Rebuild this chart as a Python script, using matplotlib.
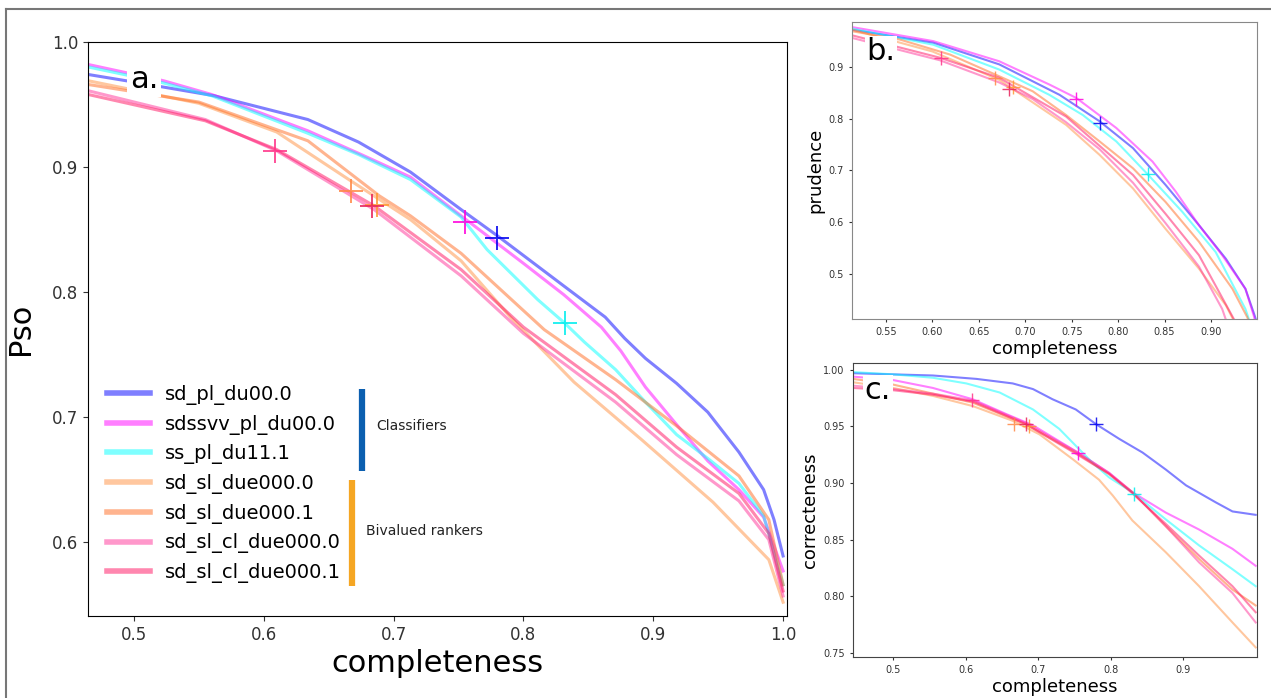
import matplotlib
matplotlib.use("Agg")
import matplotlib.pyplot as plt
from matplotlib.lines import Line2D
import numpy as np

# series names
names = ["sd_pl_du00.0", "sdssvv_pl_du00.0", "ss_pl_du11.1", "sd_sl_due000.0",
         "sd_sl_due000.1", "sd_sl_cl_due000.0", "sd_sl_cl_due000.1"]

# panel a: Pso vs completeness
pso_sd_pl = [(0.465, 0.974), (0.50, 0.968), (0.562, 0.957), (0.634, 0.938), (0.673, 0.920), (0.713, 0.896),
             (0.752, 0.866), (0.780, 0.845), (0.831, 0.805), (0.863, 0.780), (0.878, 0.763), (0.894, 0.747),
             (0.918, 0.727), (0.942, 0.704), (0.966, 0.672), (0.985, 0.642), (0.993, 0.618), (1.0, 0.589)]
pso_sdssvv = [(0.465, 0.982), (0.523, 0.969), (0.56, 0.958), (0.634, 0.929), (0.673, 0.911), (0.713, 0.892),
              (0.752, 0.861), (0.80, 0.823), (0.831, 0.798), (0.86, 0.772), (0.875, 0.753), (0.894, 0.724),
              (0.918, 0.694), (0.942, 0.665), (0.966, 0.642), (0.985, 0.620), (1.0, 0.577)]
pso_ss = [(0.465, 0.980), (0.52, 0.968), (0.56, 0.957), (0.634, 0.927), (0.673, 0.910), (0.713, 0.890),
          (0.752, 0.860), (0.772, 0.834), (0.811, 0.794), (0.832, 0.775), (0.847, 0.760), (0.871, 0.738),
          (0.894, 0.712), (0.918, 0.686), (0.942, 0.667), (0.966, 0.647), (0.985, 0.621), (1.0, 0.566)]
pso_due0 = [(0.465, 0.969), (0.55, 0.951), (0.61, 0.928), (0.667, 0.889), (0.713, 0.858), (0.752, 0.825),
            (0.79, 0.780), (0.839, 0.728), (0.891, 0.682), (0.946, 0.632), (0.989, 0.586), (1.0, 0.552)]
pso_due1 = [(0.465, 0.966), (0.55, 0.952), (0.634, 0.921), (0.689, 0.877), (0.713, 0.861), (0.752, 0.831),
            (0.816, 0.770), (0.871, 0.730), (0.918, 0.693), (0.966, 0.653), (0.989, 0.618), (1.0, 0.566)]
pso_cl0 = [(0.465, 0.961), (0.555, 0.938), (0.61, 0.913), (0.685, 0.866), (0.752, 0.813), (0.80, 0.767),
           (0.871, 0.712), (0.918, 0.670), (0.966, 0.633), (0.989, 0.602), (1.0, 0.557)]
pso_cl1 = [(0.465, 0.958), (0.555, 0.937), (0.61, 0.914), (0.685, 0.869), (0.752, 0.818), (0.80, 0.772),
           (0.871, 0.718), (0.918, 0.676), (0.966, 0.639), (0.989, 0.607), (1.0, 0.561)]

# panel b: prudence vs completeness
pru_sd_pl = [(0.514, 0.972), (0.601, 0.947), (0.672, 0.905), (0.737, 0.846), (0.780, 0.795), (0.816, 0.743),
             (0.851, 0.672), (0.887, 0.594), (0.916, 0.529), (0.937, 0.471), (0.947, 0.419), (0.952, 0.39)]
pru_sdssvv = [(0.514, 0.977), (0.601, 0.950), (0.672, 0.911), (0.726, 0.866), (0.755, 0.840), (0.798, 0.782),
              (0.837, 0.717), (0.862, 0.659), (0.887, 0.594), (0.912, 0.536), (0.937, 0.471), (0.946, 0.419),
              (0.950, 0.39)]
pru_ss = [(0.514, 0.974), (0.601, 0.943), (0.672, 0.895), (0.726, 0.846), (0.762, 0.807), (0.798, 0.756),
          (0.832, 0.692), (0.869, 0.620), (0.905, 0.542), (0.937, 0.432), (0.945, 0.39)]
pru_due0 = [(0.514, 0.972), (0.60, 0.930), (0.672, 0.875), (0.744, 0.788), (0.780, 0.730), (0.816, 0.665),
            (0.851, 0.587), (0.887, 0.510), (0.916, 0.439), (0.930, 0.39)]
pru_due1 = [(0.514, 0.969), (0.565, 0.953), (0.619, 0.924), (0.672, 0.882), (0.708, 0.853), (0.744, 0.807),
            (0.780, 0.756), (0.816, 0.704), (0.851, 0.639), (0.887, 0.562), (0.923, 0.471), (0.939, 0.416),
            (0.945, 0.39)]
pru_cl0 = [(0.514, 0.956), (0.608, 0.913), (0.672, 0.870), (0.708, 0.838), (0.744, 0.793), (0.780, 0.741),
           (0.816, 0.676), (0.851, 0.598), (0.887, 0.514), (0.912, 0.432), (0.920, 0.39)]
pru_cl1 = [(0.514, 0.961), (0.608, 0.918), (0.672, 0.879), (0.744, 0.804), (0.816, 0.691), (0.851, 0.616),
           (0.887, 0.536), (0.925, 0.411), (0.930, 0.39)]

# panel c: correcteness vs completeness
cor_sd_pl = [(0.445, 0.997), (0.5, 0.996), (0.555, 0.995), (0.615, 0.992), (0.665, 0.988), (0.693, 0.983),
             (0.72, 0.974), (0.752, 0.965), (0.78, 0.952), (0.812, 0.939), (0.844, 0.927), (0.876, 0.912),
             (0.904, 0.898), (0.945, 0.883), (0.968, 0.875), (1.0, 0.872)]
cor_sdssvv = [(0.445, 0.994), (0.5, 0.991), (0.555, 0.984), (0.61, 0.974), (0.656, 0.961), (0.693, 0.951),
              (0.755, 0.927), (0.798, 0.909), (0.83, 0.892), (0.876, 0.874), (0.922, 0.859), (0.968, 0.842),
              (1.0, 0.827)]
cor_ss = [(0.445, 0.998), (0.5, 0.996), (0.555, 0.993), (0.601, 0.988), (0.647, 0.980), (0.693, 0.965),
          (0.729, 0.948), (0.752, 0.933), (0.775, 0.918), (0.798, 0.905), (0.83, 0.892), (0.876, 0.868),
          (0.922, 0.845), (0.968, 0.824), (1.0, 0.809)]
cor_due0 = [(0.445, 0.989), (0.5, 0.984), (0.555, 0.977), (0.61, 0.968), (0.665, 0.955), (0.702, 0.943),
            (0.748, 0.921), (0.784, 0.903), (0.803, 0.889), (0.83, 0.867), (0.876, 0.839), (0.922, 0.809),
            (0.968, 0.777), (1.0, 0.755)]
cor_due1 = [(0.445, 0.992), (0.5, 0.987), (0.61, 0.971), (0.683, 0.952), (0.752, 0.927), (0.798, 0.908),
            (0.83, 0.892), (0.876, 0.862), (0.922, 0.833), (0.968, 0.806), (1.0, 0.792)]
cor_cl0 = [(0.445, 0.986), (0.5, 0.983), (0.555, 0.979), (0.61, 0.973), (0.683, 0.953), (0.752, 0.928),
           (0.798, 0.909), (0.83, 0.892), (0.876, 0.862), (0.922, 0.830), (0.968, 0.803), (1.0, 0.777)]
cor_cl1 = [(0.445, 0.984), (0.5, 0.982), (0.555, 0.978), (0.61, 0.972), (0.683, 0.952), (0.752, 0.926),
           (0.798, 0.908), (0.83, 0.891), (0.876, 0.864), (0.922, 0.836), (0.968, 0.809), (1.0, 0.786)]

# operating points (+ markers), same order as names
mark_compl = [0.780, 0.755, 0.832, 0.667, 0.687, 0.609, 0.683]
mark_pso = [0.843, 0.856, 0.775, 0.881, 0.870, 0.913, 0.869]
mark_pru = [0.792, 0.838, 0.693, 0.879, 0.862, 0.917, 0.857]
mark_cor = [0.952, 0.927, 0.890, 0.952, 0.950, 0.973, 0.952]

line_colors = ["#0000ff", "#ff00ff", "#00ffff", "#ff9040", "#ff6a20", "#ff3399", "#ff1060"]
mark_colors = ["#0000ee", "#ff00dd", "#00eeee", "#ff8844", "#ff9933", "#ff3388", "#e8225a"]

fig = plt.figure(figsize=(12.71, 6.98), dpi=100)
ax_a = fig.add_axes([0.0692, 0.1175, 0.55, 0.8223])
ax_b = fig.add_axes([0.6703, 0.543, 0.3187, 0.4255])
ax_c = fig.add_axes([0.6711, 0.0587, 0.318, 0.4212])

panels = [
    (ax_a, [pso_sd_pl, pso_sdssvv, pso_ss, pso_due0, pso_due1, pso_cl0, pso_cl1], mark_pso, 2.2, 17),
    (ax_b, [pru_sd_pl, pru_sdssvv, pru_ss, pru_due0, pru_due1, pru_cl0, pru_cl1], mark_pru, 1.5, 10),
    (ax_c, [cor_sd_pl, cor_sdssvv, cor_ss, cor_due0, cor_due1, cor_cl0, cor_cl1], mark_cor, 1.5, 10),
]
for ax, curves, marks, lw, ms in panels:
    for i, pts in enumerate(curves):
        xy = np.array(pts)
        ax.plot(xy[:, 0], xy[:, 1], color=line_colors[i], alpha=0.5, lw=lw, label=names[i])
    for i in range(len(names)):
        ax.plot(mark_compl[i], marks[i], "+", color=mark_colors[i], ms=ms, mew=1.4 if ax is ax_a else 1.0,
                alpha=0.85)

# panel a
ax_a.set_xlim(0.4646, 1.003)
ax_a.set_ylim(0.541, 1.0)
ax_a.set_xticks([0.5, 0.6, 0.7, 0.8, 0.9, 1.0])
ax_a.set_xticklabels(["0.5", "0.6", "0.7", "0.8", "0.9", "1.0"])
ax_a.set_yticks([0.6, 0.7, 0.8, 0.9, 1.0])
ax_a.set_yticklabels(["0.6", "0.7", "0.8", "0.9", "1.0"])
ax_a.tick_params(labelsize=12, colors="#333333")
ax_a.set_xlabel("completeness", fontsize=22)
ax_a.set_ylabel("Pso", fontsize=22, labelpad=12)
ax_a.text(0.080, 0.934, "a.", transform=ax_a.transAxes, fontsize=22, ha="center", va="center",
          bbox=dict(facecolor="white", edgecolor="none", pad=2), zorder=5)
ax_a.legend(loc="center left", bbox_to_anchor=(0.016, 0.23), frameon=False, fontsize=14,
            handlelength=2.2, handletextpad=0.8, borderaxespad=0, labelspacing=0.5)
for l in ax_a.get_legend().get_lines():
    l.set_linewidth(4)

# group brackets
ax_a.plot([0.6757, 0.6757], [0.7224, 0.6568], color="#0b5fb0", lw=4.5, solid_capstyle="butt")
ax_a.plot([0.668, 0.668], [0.650, 0.5648], color="#f5a623", lw=4.5, solid_capstyle="butt")
ax_a.text(0.6864, 0.6928, "Classifiers", fontsize=10, va="center", color="#222222")
ax_a.text(0.6787, 0.6088, "Bivalued rankers", fontsize=10, va="center", color="#222222")

# panel b
ax_b.set_xlim(0.5134, 0.9495)
ax_b.set_ylim(0.4126, 0.987)
ax_b.set_xticks([0.55, 0.60, 0.65, 0.70, 0.75, 0.80, 0.85, 0.90])
ax_b.set_xticklabels(["0.55", "0.60", "0.65", "0.70", "0.75", "0.80", "0.85", "0.90"])
ax_b.set_yticks([0.5, 0.6, 0.7, 0.8, 0.9])
ax_b.set_yticklabels(["0.5", "0.6", "0.7", "0.8", "0.9"])
ax_b.tick_params(labelsize=7, length=2.5, colors="#333333")
ax_b.set_xlabel("completeness", fontsize=13, labelpad=2)
ax_b.set_ylabel("prudence", fontsize=13, labelpad=3)
for s in ax_b.spines.values():
    s.set_color("#888888")
ax_b.text(0.072, 0.899, "b.", transform=ax_b.transAxes, fontsize=22, ha="center", va="center",
          bbox=dict(facecolor="white", edgecolor="none", pad=1), zorder=5)

# panel c
ax_c.set_xlim(0.4448, 1.002)
ax_c.set_ylim(0.7465, 1.006)
ax_c.set_xticks([0.5, 0.6, 0.7, 0.8, 0.9])
ax_c.set_xticklabels(["0.5", "0.6", "0.7", "0.8", "0.9"])
ax_c.set_yticks([0.75, 0.80, 0.85, 0.90, 0.95, 1.00])
ax_c.set_yticklabels(["0.75", "0.80", "0.85", "0.90", "0.95", "1.00"])
ax_c.tick_params(labelsize=7, length=2.5, colors="#333333")
ax_c.set_xlabel("completeness", fontsize=13, labelpad=2)
ax_c.set_ylabel("correcteness", fontsize=13, labelpad=3)
for s in ax_c.spines.values():
    s.set_color("#444444")
ax_c.text(0.062, 0.905, "c.", transform=ax_c.transAxes, fontsize=22, ha="center", va="center",
          bbox=dict(facecolor="white", edgecolor="none", pad=1), zorder=5)

# outer frame (top and left edges)
fig.add_artist(Line2D([6 / 1271, 1.0], [1 - 9 / 698, 1 - 9 / 698], color="#777777", lw=1.5))
fig.add_artist(Line2D([6 / 1271, 6 / 1271], [0, 1 - 9 / 698], color="#777777", lw=1.5))

fig.savefig("out.png", dpi=100)
